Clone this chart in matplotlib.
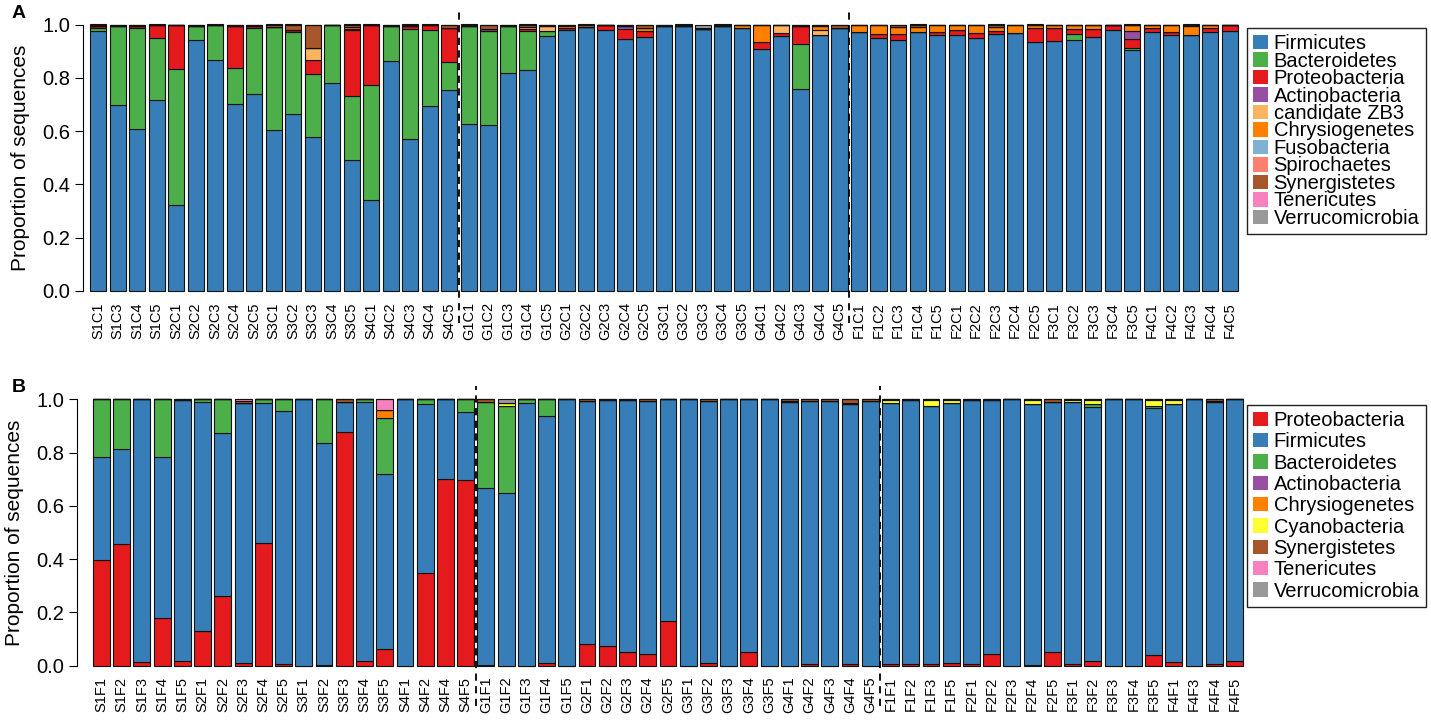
import matplotlib
matplotlib.use('Agg')
import matplotlib.pyplot as plt
from matplotlib.patches import Patch
import numpy as np

plt.rcParams['font.family'] = ['Liberation Sans', 'DejaVu Sans']

# ---------------- panel A data ----------------
samples_a = ['S1C1', 'S1C3', 'S1C4', 'S1C5', 'S2C1', 'S2C2', 'S2C3', 'S2C4', 'S2C5',
             'S3C1', 'S3C2', 'S3C3', 'S3C4', 'S3C5', 'S4C1', 'S4C2', 'S4C3', 'S4C4', 'S4C5',
             'G1C1', 'G1C2', 'G1C3', 'G1C4', 'G1C5', 'G2C1', 'G2C2', 'G2C3', 'G2C4', 'G2C5',
             'G3C1', 'G3C2', 'G3C3', 'G3C4', 'G3C5', 'G4C1', 'G4C2', 'G4C3', 'G4C4', 'G4C5',
             'F1C1', 'F1C2', 'F1C3', 'F1C4', 'F1C5', 'F2C1', 'F2C2', 'F2C3', 'F2C4', 'F2C5',
             'F3C1', 'F3C2', 'F3C3', 'F3C4', 'F3C5', 'F4C1', 'F4C2', 'F4C3', 'F4C4', 'F4C5']

firmicutes_a = [.975, .699, .609, .718, .322, .943, .865, .703, .740,
                .603, .663, .578, .780, .493, .343, .863, .572, .693, .753,
                .625, .624, .818, .830, .955, .978, .990, .978, .944, .953,
                .996, .993, .984, .993, .986, .909, .956, .757, .961, .988,
                .971, .950, .943, .971, .959, .959, .949, .965, .968, .934,
                .938, .940, .953, .980, .903, .971, .959, .959, .971, .974]
bacteroidetes_a = [.012, .295, .377, .231, .512, .053, .135, .135, .246,
                   .387, .308, .237, .218, .237, .429, .133, .412, .287, .108,
                   .368, .350, .175, .144, .019, 0, 0, 0, 0, 0,
                   0, 0, 0, 0, 0, 0, 0, .171, 0, 0,
                   0, 0, 0, 0, 0, 0, 0, 0, 0, 0,
                   0, .023, 0, 0, .008, 0, 0, 0, 0, 0]
proteobacteria_a = [.008, .002, .010, .051, .166, 0, 0, .158, .010,
                    0, .009, .050, 0, .248, .228, 0, .010, .020, .125,
                    0, 0, 0, .010, 0, .010, 0, .020, .040, .021,
                    0, 0, 0, 0, 0, .025, .013, .065, 0, 0,
                    0, .015, .022, 0, .012, .021, .020, .010, 0, .052,
                    .050, .021, .031, .018, .033, .017, .012, 0, .017, .024]
actinobacteria_a = [0] * 19 + \
                   [0, .010, 0, 0, 0, 0, 0, 0, .012, 0,
                    0, 0, 0, 0, 0, 0, 0, 0, 0, 0] + \
                   [0, 0, 0, 0, 0, 0, 0, 0, 0, 0,
                    0, 0, 0, 0, .030, 0, 0, 0, 0, 0]
zb3_a = [0, 0, 0, 0, 0, 0, 0, 0, 0,
         0, 0, .048, 0, .005, 0, 0, 0, 0, 0,
         0, 0, 0, .006, .022, 0, 0, 0, 0, 0,
         0, 0, 0, 0, 0, 0, .029, 0, .020, 0] + [0] * 20
chrysiogenetes_a = [0, 0, 0, 0, 0, 0, 0, 0, 0,
                    0, 0, 0, 0, .007, 0, 0, 0, 0, 0,
                    0, 0, 0, 0, 0, .008, 0, 0, 0, .012,
                    0, 0, 0, 0, .012, .064, 0, 0, .015, 0,
                    .027, .033, .027, .019, .027, .018, .029, .015, .030, .012,
                    .010, .014, .014, 0, .024, .010, .027, .034, .010, 0]
fusobacteria_a = [0] * 59
spirochaetes_a = [0] * 59
synergistetes_a = [.005, .004, .004, 0, 0, .004, 0, .004, .004,
                   .010, .020, .087, .002, .010, 0, .004, .006, 0, .014,
                   .007, .016, .007, .010, .004, .004, .010, .002, .004, .014,
                   .004, .007, .003, .007, .002, .002, .002, .007, .004, .012,
                   .002, .002, .008, .010, .002, .002, .002, .010, .002, .002,
                   .002, .002, .002, .002, .002, .002, .002, .007, .002, .002]
tenericutes_a = [0] * 59
verrucomicrobia_a = [0] * 31 + [.013] + [0] * 27

phyla_a = ['Firmicutes', 'Bacteroidetes', 'Proteobacteria', 'Actinobacteria',
           'candidate ZB3', 'Chrysiogenetes', 'Fusobacteria', 'Spirochaetes',
           'Synergistetes', 'Tenericutes', 'Verrucomicrobia']
values_a = [firmicutes_a, bacteroidetes_a, proteobacteria_a, actinobacteria_a,
            zb3_a, chrysiogenetes_a, fusobacteria_a, spirochaetes_a,
            synergistetes_a, tenericutes_a, verrucomicrobia_a]

# ---------------- panel B data ----------------
samples_b = ['S1F1', 'S1F2', 'S1F3', 'S1F4', 'S1F5', 'S2F1', 'S2F2', 'S2F3', 'S2F4', 'S2F5',
             'S3F1', 'S3F2', 'S3F3', 'S3F4', 'S3F5', 'S4F1', 'S4F2', 'S4F4', 'S4F5',
             'G1F1', 'G1F2', 'G1F3', 'G1F4', 'G1F5', 'G2F1', 'G2F2', 'G2F3', 'G2F4', 'G2F5',
             'G3F1', 'G3F2', 'G3F3', 'G3F4', 'G3F5', 'G4F1', 'G4F2', 'G4F3', 'G4F4', 'G4F5',
             'F1F1', 'F1F2', 'F1F3', 'F1F5', 'F2F1', 'F2F2', 'F2F3', 'F2F4', 'F2F5',
             'F3F1', 'F3F2', 'F3F3', 'F3F4', 'F3F5', 'F4F1', 'F4F3', 'F4F4', 'F4F5']

proteobacteria_b = [.395, .456, .015, .178, .018, .131, .263, .009, .459, .006,
                    0, .002, .879, .018, .061, 0, .349, .701, .697,
                    .003, 0, 0, .009, 0, .081, .074, .050, .043, .169,
                    0, .009, 0, .050, 0, 0, .005, 0, .008, 0,
                    .005, .008, .008, .012, .008, .044, 0, .002, .053,
                    .008, .019, 0, 0, .040, .013, 0, .006, .019]
firmicutes_b = [.390, .358, .985, .604, .979, .858, .609, .976, .528, .951,
                1.0, .835, .112, .973, .657, 1.0, .633, .299, .254,
                .663, .650, .985, .930, 1.0, .914, .922, .946, .950, .831,
                1.0, .986, 1.0, .950, 1.0, .991, .990, .995, .973, .995,
                .980, .988, .968, .973, .988, .952, 1.0, .980, .938,
                .981, .951, 1.0, 1.0, .926, .969, 1.0, .983, .981]
bacteroidetes_b = [.215, .186, 0, .218, 0, .011, .128, 0, .013, .043,
                   0, .163, 0, .009, .213, 0, .018, 0, .049,
                   .325, .325, .015, .061, 0, 0, 0, 0, 0, 0,
                   0, 0, 0, 0, 0, 0, 0, 0, 0, 0,
                   0, 0, 0, 0, 0, 0, 0, 0, 0,
                   0, .012, 0, 0, .010, 0, 0, 0, 0]
actinobacteria_b = [0] * 57
chrysiogenetes_b = [0] * 14 + [.029] + [0] * 42
cyanobacteria_b = [0] * 19 + \
                  [0, .010, 0, 0, 0, 0, 0, 0, 0, 0,
                   0, 0, 0, 0, 0, .003, 0, 0, .005, 0] + \
                  [.012, 0, .021, .012, 0, 0, 0, .015, 0,
                   .008, .015, 0, 0, .021, .015, 0, .005, 0]
synergistetes_b = [0, 0, 0, 0, .003, 0, 0, .008, 0, 0,
                   0, 0, .009, 0, 0, 0, 0, 0, 0,
                   .009, 0, 0, 0, 0, .005, .004, .004, .007, 0,
                   0, .005, 0, 0, 0, .006, .005, .005, .014, .005,
                   .003, .004, .003, .003, .004, .004, 0, .003, .009,
                   .003, .003, 0, 0, .003, .003, 0, .006, 0]
tenericutes_b = [0] * 7 + [.007] + [0] * 6 + [.040] + [0] * 42
verrucomicrobia_b = [0] * 20 + [.015] + [0] * 36

phyla_b = ['Proteobacteria', 'Firmicutes', 'Bacteroidetes', 'Actinobacteria',
           'Chrysiogenetes', 'Cyanobacteria', 'Synergistetes', 'Tenericutes',
           'Verrucomicrobia']
values_b = [proteobacteria_b, firmicutes_b, bacteroidetes_b, actinobacteria_b,
            chrysiogenetes_b, cyanobacteria_b, synergistetes_b, tenericutes_b,
            verrucomicrobia_b]

colours = {'Firmicutes': '#377EB8', 'Bacteroidetes': '#4DAF4A',
           'Proteobacteria': '#E41A1C', 'Actinobacteria': '#984EA3',
           'candidate ZB3': '#FDB462', 'Chrysiogenetes': '#FF7F00',
           'Fusobacteria': '#80B1D3', 'Spirochaetes': '#FB8072',
           'Synergistetes': '#A65628', 'Tenericutes': '#F781BF',
           'Verrucomicrobia': '#999999', 'Cyanobacteria': '#FFFF33'}

W, H = 1431, 722
fig = plt.figure(figsize=(W / 100, H / 100), dpi=100)


def px_axes(left, top, width, height):
    return fig.add_axes([left / W, 1 - (top + height) / H, width / W, height / H])


def stacked(ax, samples, phyla, values, xlim, seps, dash_bottom, legend_top, spacing):
    x = np.arange(len(samples)) * 1.2
    bottom = np.zeros(len(samples))
    for name, vals in zip(phyla, values):
        vals = np.array(vals, dtype=float)
        ax.bar(x, vals, width=1, bottom=bottom, align='edge',
               color=colours[name], edgecolor='#111111', linewidth=0.8, clip_on=False)
        bottom += vals
    ax.set_xlim(*xlim)
    ax.set_ylim(0, 1)
    for s in ['top', 'right', 'bottom']:
        ax.spines[s].set_visible(False)
    ax.spines['left'].set_bounds(0, 1)
    ax.set_yticks([0, 0.2, 0.4, 0.6, 0.8, 1.0])
    ax.set_yticklabels(['0.0', '0.2', '0.4', '0.6', '0.8', '1.0'])
    ax.tick_params(axis='y', length=6, labelsize=14.5, pad=3)
    ax.set_xticks(x + 0.5)
    ax.set_xticklabels(samples, rotation=90, fontsize=10.5)
    ax.tick_params(axis='x', length=0, pad=8)
    ax.set_ylabel('Proportion of sequences', fontsize=15, labelpad=9)
    # group separators
    for i in seps:
        xs = x[i] - 0.1
        ax.plot([xs, xs], [dash_bottom, 1.05], color='black', lw=1.3,
                dashes=(4, 3), clip_on=False, zorder=5)
    handles = [Patch(facecolor=colours[n], edgecolor='none') for n in phyla]
    fig.legend(handles, phyla, loc='upper left',
               bbox_to_anchor=(1247 / W, 1 - legend_top / H),
               fontsize=14.5, frameon=True, fancybox=False, framealpha=1,
               edgecolor='#222222', borderaxespad=0, borderpad=0.3,
               handlelength=0.72, handleheight=0.72, handletextpad=0.3,
               labelspacing=spacing)


ax_a = px_axes(83, 24.5, 1156.6, 266.5)
stacked(ax_a, samples_a, phyla_a, values_a, (-0.43, 70.7), [19, 39], -0.12, 28, -0.075)

ax_b = px_axes(77, 399.3, 1167.6, 266.4)
stacked(ax_b, samples_b, phyla_b, values_b, (-0.95, 68.3), [19, 39], -0.15, 405, 0.115)

fig.text(12 / W, 1 - 13 / H, 'A', fontsize=14, fontweight='bold', va='center')
fig.text(12 / W, 1 - 388 / H, 'B', fontsize=14, fontweight='bold', va='center')

fig.savefig('out.png', dpi=100)
